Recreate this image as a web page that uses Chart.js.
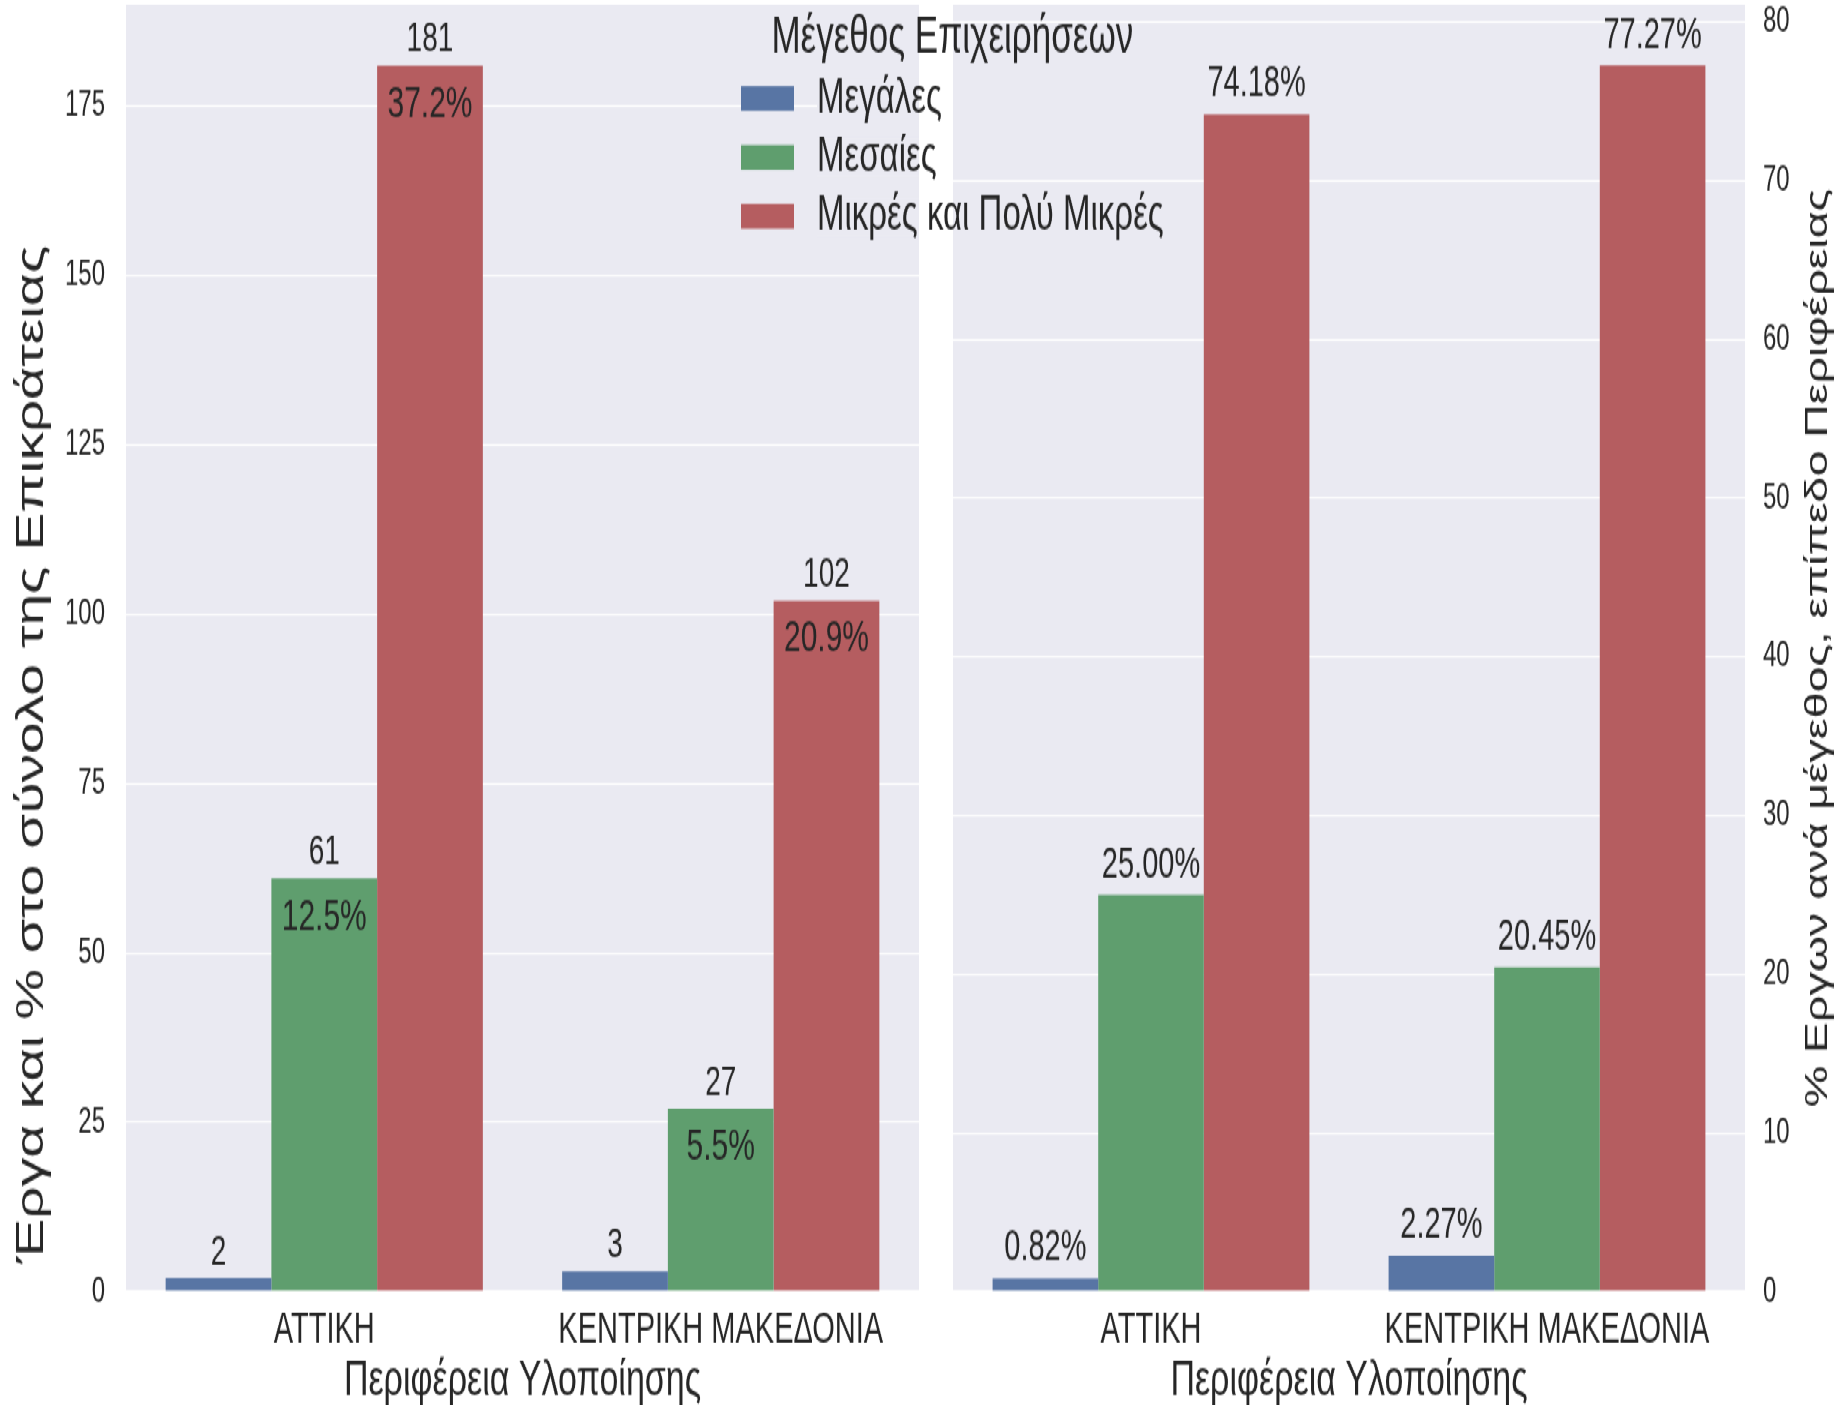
<!DOCTYPE html>
<html lang="el">

<head>
    <meta charset="UTF-8">
    <title>Έργα ανά μέγεθος επιχείρησης</title>
    <script src="https://cdn.jsdelivr.net/npm/chart.js"></script>
    <style>
        html, body {
            margin: 0;
            padding: 0;
            background: #fff;
            overflow: hidden;
        }

        /* the original picture is stretched vertically, so the whole drawing is too */
        #wrap {
            position: absolute;
            left: 0;
            top: 0;
            width: 1837px;
            height: 937px;
            transform: scaleY(1.5);
            transform-origin: 0 0;
        }

        #wrap canvas {
            position: absolute;
            left: 0;
            top: 0;
        }
    </style>
</head>

<body>
    <div id="wrap">
        <canvas id="leftChart" width="1837" height="937"></canvas>
        <canvas id="rightChart" width="1837" height="937"></canvas>
    </div>

    <script>
        // data
        const regions = ['ΑΤΤΙΚΗ', 'ΚΕΝΤΡΙΚΗ ΜΑΚΕΔΟΝΙΑ'];
        const sizeNames = ['Μεγάλες', 'Μεσαίες', 'Μικρές και Πολύ Μικρές'];

        // number of projects
        const countLarge = [2, 3];
        const countMedium = [61, 27];
        const countSmall = [181, 102];

        // % of the national total (shown inside the bars)
        const shareTotalLarge = [null, null];
        const shareTotalMedium = [12.5, 5.5];
        const shareTotalSmall = [37.2, 20.9];

        // % within each region
        const shareRegionLarge = [0.82, 2.27];
        const shareRegionMedium = [25.00, 20.45];
        const shareRegionSmall = [74.18, 77.27];

        // axes
        const leftMax = 190;
        const leftStep = 25;
        const rightMax = 81.1;
        const rightStep = 10;

        const colors = ['#5875a4', '#5f9e6e', '#b55d60'];
        const FONT = "'Liberation Sans', Arial, sans-serif";
        const INK = '#262626';
        const PANEL = '#eaeaf2';

        // lavender plot background
        const panelBg = {
            id: 'panelBg',
            beforeDraw(chart) {
                const a = chart.chartArea;
                const ctx = chart.ctx;
                ctx.save();
                ctx.fillStyle = PANEL;
                ctx.fillRect(a.left, a.top, a.right - a.left, a.bottom - a.top);
                ctx.restore();
            }
        };

        // numbers above / inside the bars
        const barText = {
            id: 'barText',
            afterDatasetsDraw(chart, args, opts) {
                const ctx = chart.ctx;
                ctx.save();
                ctx.fillStyle = INK;
                ctx.textAlign = 'center';
                ctx.textBaseline = 'alphabetic';
                chart.data.datasets.forEach(function (ds, i) {
                    chart.getDatasetMeta(i).data.forEach(function (bar, j) {
                        const above = opts.above[i][j];
                        if (above != null) {
                            ctx.font = opts.aboveSize + 'px ' + FONT;
                            ctx.fillText(above, bar.x, bar.y - opts.aboveGap);
                        }
                        if (opts.inside) {
                            const inside = opts.inside[i][j];
                            if (inside != null) {
                                ctx.font = opts.insideSize + 'px ' + FONT;
                                ctx.fillText(inside, bar.x, bar.y + opts.insideGap);
                            }
                        }
                    });
                });
                ctx.restore();
            }
        };

        // axis titles (y title reads bottom to top on both sides)
        const axisText = {
            id: 'axisText',
            afterDraw(chart, args, opts) {
                const a = chart.chartArea;
                const ctx = chart.ctx;
                ctx.save();
                ctx.fillStyle = INK;
                ctx.textAlign = 'center';
                ctx.textBaseline = 'middle';
                ctx.font = opts.xSize + 'px ' + FONT;
                ctx.fillText(opts.xTitle, (a.left + a.right) / 2, opts.xY);
                ctx.translate(opts.yX, opts.yY != null ? opts.yY : (a.top + a.bottom) / 2);
                ctx.rotate(-Math.PI / 2);
                ctx.font = opts.ySize + 'px ' + FONT;
                ctx.fillText(opts.yTitle, 0, 0);
                ctx.restore();
            }
        };

        // legend sitting across both panels
        const sizeLegend = {
            id: 'sizeLegend',
            afterDraw(chart, args, opts) {
                const ctx = chart.ctx;
                ctx.save();
                ctx.font = opts.itemSize + 'px ' + FONT;
                const textX = opts.x + opts.boxW + opts.gap;
                let w = 0;
                chart.data.datasets.forEach(function (ds) {
                    w = Math.max(w, ctx.measureText(ds.label).width);
                });
                ctx.textAlign = 'left';
                ctx.textBaseline = 'middle';
                chart.data.datasets.forEach(function (ds, i) {
                    const y = opts.y + i * opts.rowH;
                    const cy = y + opts.boxH / 2;
                    // label text hides the left panel grid behind it
                    const tw = ctx.measureText(ds.label).width;
                    const maskEnd = Math.min(textX + tw, opts.maskRight);
                    ctx.fillStyle = PANEL;
                    ctx.fillRect(textX, cy - opts.maskH / 2, maskEnd - textX, opts.maskH);
                    ctx.fillStyle = ds.backgroundColor;
                    ctx.fillRect(opts.x, y, opts.boxW, opts.boxH);
                    ctx.fillStyle = INK;
                    ctx.fillText(ds.label, textX, cy);
                });
                ctx.font = opts.titleSize + 'px ' + FONT;
                ctx.textAlign = 'center';
                ctx.textBaseline = 'alphabetic';
                ctx.fillText(opts.title, (opts.x + textX + w) / 2, opts.titleY);
                ctx.restore();
            }
        };

        function makeDatasets(a, b, c) {
            return [a, b, c].map(function (values, i) {
                return {
                    label: sizeNames[i],
                    data: values,
                    backgroundColor: colors[i],
                    borderWidth: 0,
                    categoryPercentage: 0.8,
                    barPercentage: 1.0
                };
            });
        }

        function pct(arr, digits) {
            return arr.map(function (v) {
                return v == null ? null : v.toFixed(digits) + '%';
            });
        }

        function yAxis(position, max, step, width, padding) {
            return {
                position: position,
                min: 0,
                max: max,
                afterFit: function (s) {
                    s.width = width;
                    // keep the plot area flush with the top
                    s.paddingTop = 0;
                    s.paddingBottom = 0;
                },
                grid: { color: '#ffffff', lineWidth: 1.3, drawTicks: false },
                border: { display: false },
                ticks: {
                    stepSize: step,
                    includeBounds: false,
                    padding: padding,
                    color: INK,
                    font: { family: FONT, size: 24 }
                }
            };
        }

        const xAxis = {
            afterFit: function (s) { s.height = 76; },
            grid: { display: false },
            border: { display: false },
            ticks: { padding: 1, color: INK, font: { family: FONT, size: 29 } }
        };

        Chart.defaults.font.family = FONT;

        new Chart(document.getElementById('leftChart').getContext('2d'), {
            type: 'bar',
            data: {
                labels: regions,
                datasets: makeDatasets(countLarge, countMedium, countSmall)
            },
            options: {
                responsive: false,
                animation: false,
                devicePixelRatio: 1,
                layout: { padding: { left: 0, right: 918, top: 3, bottom: 0 } },
                scales: {
                    x: xAxis,
                    y: yAxis('left', leftMax, leftStep, 126, 21)
                },
                plugins: {
                    legend: { display: false },
                    tooltip: { enabled: false },
                    barText: {
                        aboveSize: 28,
                        insideSize: 30,
                        above: [countLarge, countMedium, countSmall],
                        aboveGap: 9.3,
                        inside: [pct(shareTotalLarge, 1), pct(shareTotalMedium, 1), pct(shareTotalSmall, 1)],
                        insideGap: 34
                    },
                    axisText: {
                        xTitle: 'Περιφέρεια Υλοποίησης',
                        xSize: 34,
                        xY: 921,
                        yTitle: 'Έργα και % στο σύνολο της Επικράτειας',
                        ySize: 38,
                        yX: 33,
                        yY: 503
                    }
                }
            },
            plugins: [panelBg, barText, axisText]
        });

        new Chart(document.getElementById('rightChart').getContext('2d'), {
            type: 'bar',
            data: {
                labels: regions,
                datasets: makeDatasets(shareRegionLarge, shareRegionMedium, shareRegionSmall)
            },
            options: {
                responsive: false,
                animation: false,
                devicePixelRatio: 1,
                layout: { padding: { left: 953, right: 0, top: 3, bottom: 0 } },
                scales: {
                    x: xAxis,
                    y: yAxis('right', rightMax, rightStep, 92, 18)
                },
                plugins: {
                    legend: { display: false },
                    tooltip: { enabled: false },
                    barText: {
                        aboveSize: 29,
                        above: [pct(shareRegionLarge, 2), pct(shareRegionMedium, 2), pct(shareRegionSmall, 2)],
                        aboveGap: 12
                    },
                    axisText: {
                        xTitle: 'Περιφέρεια Υλοποίησης',
                        xSize: 34,
                        xY: 921,
                        yTitle: '% Εργων ανά μέγεθος, επίπεδο Περιφέρειας',
                        ySize: 31,
                        yX: 1818
                    },
                    sizeLegend: {
                        title: 'Μέγεθος Επιχειρήσεων',
                        titleSize: 35,
                        titleY: 34.7,
                        itemSize: 33,
                        x: 741,
                        y: 57.3,
                        boxW: 53,
                        boxH: 16.5,
                        gap: 23,
                        rowH: 39.3,
                        maskH: 26,
                        maskRight: 919
                    }
                }
            },
            plugins: [panelBg, barText, axisText, sizeLegend]
        });
    </script>
</body>

</html>
